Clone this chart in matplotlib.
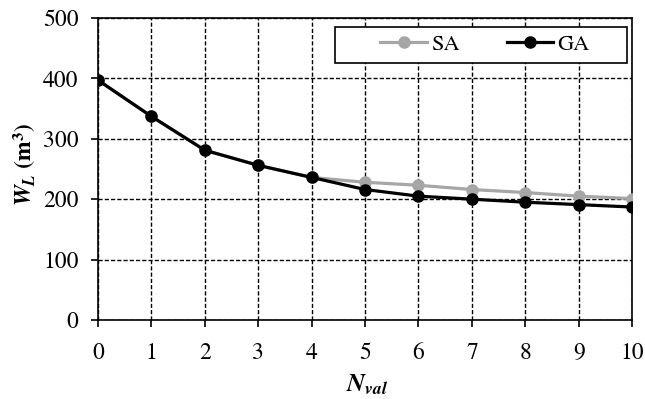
import matplotlib
matplotlib.use("Agg")
import matplotlib.pyplot as plt
from matplotlib.patches import Rectangle

n_val = [0, 1, 2, 3, 4, 5, 6, 7, 8, 9, 10]
sa = [397, 337, 281, 256, 236, 228, 223, 216, 211, 205, 201]
ga = [397, 337, 281, 256, 236, 216, 205, 200, 195, 191, 187]

FONT = 'TeX Gyre Termes'
plt.rcParams['font.family'] = [FONT, 'DejaVu Serif']
plt.rcParams['mathtext.fontset'] = 'custom'
plt.rcParams['mathtext.rm'] = FONT + ':bold'
plt.rcParams['mathtext.it'] = FONT + ':italic:bold'
plt.rcParams['mathtext.bf'] = FONT + ':bold'

fig = plt.figure(figsize=(6.45, 3.99), dpi=100)
ax = fig.add_axes([0.152, 0.198, 0.828, 0.757])

ax.plot(n_val, sa, color='#a6a6a6', lw=2.3, marker='o', ms=8, label='SA', zorder=3)
ax.plot(n_val, ga, color='black', lw=2.3, marker='o', ms=8, label='GA', zorder=4)

ax.set_xlim(0, 10)
ax.set_ylim(0, 500)
ax.set_xticks(range(0, 11))
ax.set_yticks(range(0, 501, 100))
ax.grid(True, color='black', linestyle=(0, (3, 1.5)), lw=1)
ax.tick_params(axis='both', labelsize=17, length=5, width=1.2, direction='out', color='black')
ax.tick_params(axis='y', pad=9)
ax.tick_params(axis='x', pad=11)
for s in ax.spines.values():
    s.set_color('black')
    s.set_linewidth(1.2)

fig.text(367/645, 1 - 385/399, r'$\mathit{N}_{\mathit{val}}$', fontsize=18, ha='center', va='center')
fig.text(25/645, 1 - 165/399, r'$\mathit{W}_{\mathit{L}}$ (m$^{\mathbf{3}}$)', fontsize=17,
         fontweight='bold', rotation=90, ha='center', va='center')

# legend box
x0 = (335 - 98) / 534
x1 = (627 - 98) / 534
y0 = (320 - 63) / 302
y1 = (320 - 27) / 302
ax.add_patch(Rectangle((x0, y0), x1 - x0, y1 - y0, transform=ax.transAxes,
                       facecolor='white', edgecolor='black', lw=1.2, zorder=5))
leg = ax.legend(loc='center', ncol=2, fontsize=16, frameon=False,
                handlelength=2.1, handletextpad=0.2, columnspacing=2.1,
                bbox_to_anchor=((485 - 98) / 534, (320 - 45) / 302))
leg.set_zorder(6)

fig.savefig('out.png', dpi=100)
